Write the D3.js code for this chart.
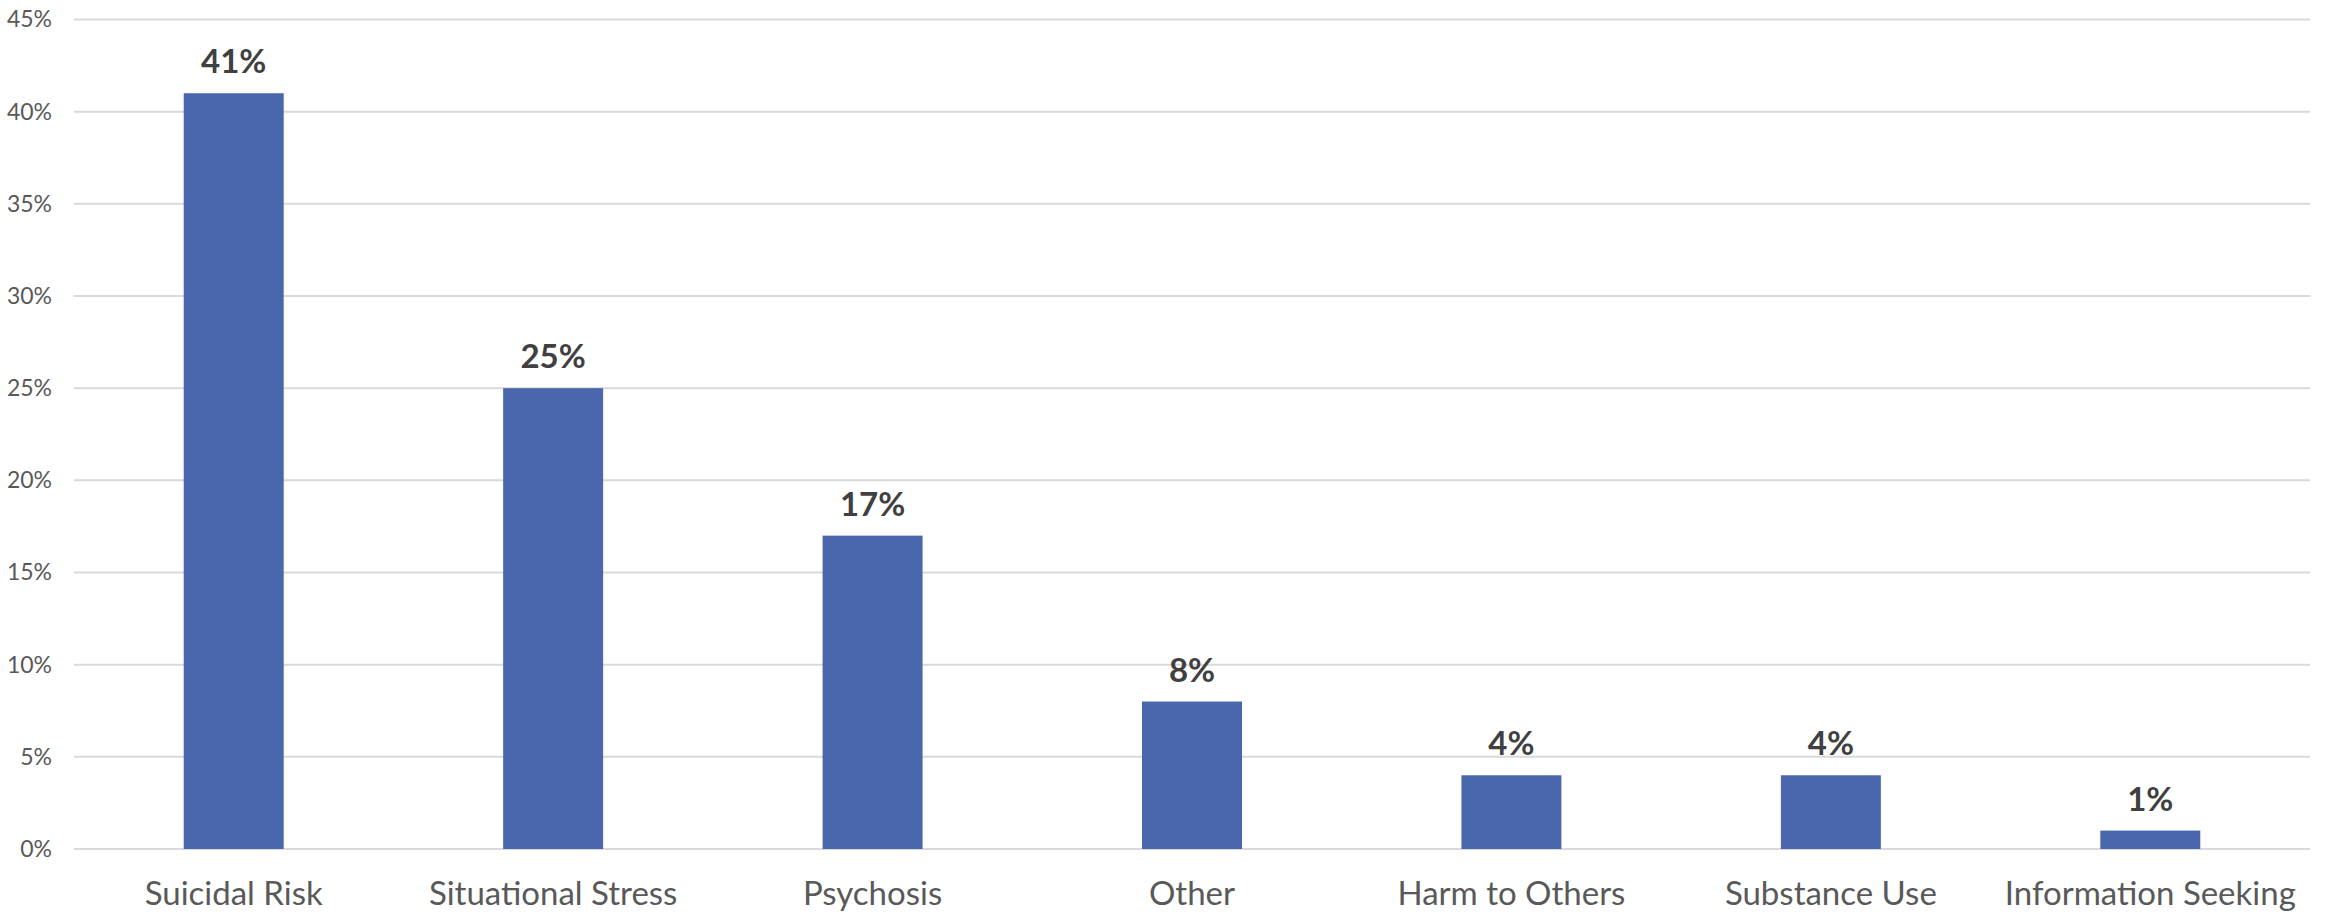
<!DOCTYPE html>
<html>
<head>
<meta charset="utf-8">
<script src="https://cdn.jsdelivr.net/npm/d3@7"></script>
<style>
  body { margin: 0; background: #fff; }
  text { font-family: "Lato", "Open Sans", sans-serif; }
</style>
</head>
<body>
<div id="chart"></div>
<script>
// categories and values
const categories = ["Suicidal Risk", "Situational Stress", "Psychosis", "Other",
                    "Harm to Others", "Substance Use", "Information Seeking"];
const values = [41, 25, 17, 8, 4, 4, 1];
const yTicks = [0, 5, 10, 15, 20, 25, 30, 35, 40, 45];

const width = 2331, height = 916;
const plotLeft = 74, plotRight = 2310, plotTop = 19.5, plotBottom = 849;

let svg = d3.select('#chart').append('svg')
    .attr('width', width)
    .attr('height', height);

let x = d3.scaleBand().domain(categories).range([plotLeft, plotRight])
    .paddingInner(0.687).paddingOuter(0.3435);
let y = d3.scaleLinear().domain([0, 45]).range([plotBottom, plotTop]);

// gridlines
svg.append('g').selectAll('line').data(yTicks).join('line')
    .attr('x1', plotLeft).attr('x2', plotRight)
    .attr('y1', d => y(d)).attr('y2', d => y(d))
    .attr('stroke', '#d9d9d9').attr('stroke-width', 2);

// y axis labels
let yAxis = svg.append('g').attr('transform', `translate(${plotLeft},0)`)
    .call(d3.axisLeft(y).tickValues(yTicks).tickFormat(d => d + '%').tickSize(0).tickPadding(22));
yAxis.select('.domain').remove();
yAxis.selectAll('text')
    .attr('fill', '#595959')
    .style('font-size', '23px');

// bars
svg.append('g').selectAll('rect').data(values).join('rect')
    .attr('x', (d, i) => x(categories[i]))
    .attr('y', d => y(d))
    .attr('width', x.bandwidth())
    .attr('height', d => y(0) - y(d))
    .attr('fill', '#4a66ac');

// value labels
svg.append('g').selectAll('text').data(values).join('text')
    .attr('x', (d, i) => x(categories[i]) + x.bandwidth() / 2)
    .attr('y', d => y(d) - 20)
    .attr('text-anchor', 'middle')
    .attr('fill', '#404040')
    .style('font-size', '33px')
    .style('font-weight', 'bold')
    .text(d => d + '%');

// category labels
let xAxis = svg.append('g').attr('transform', `translate(0,${plotBottom})`)
    .call(d3.axisBottom(x).tickSize(0).tickPadding(33));
xAxis.select('.domain').remove();
xAxis.selectAll('text')
    .attr('fill', '#595959')
    .style('font-size', '33px');
</script>
</body>
</html>
